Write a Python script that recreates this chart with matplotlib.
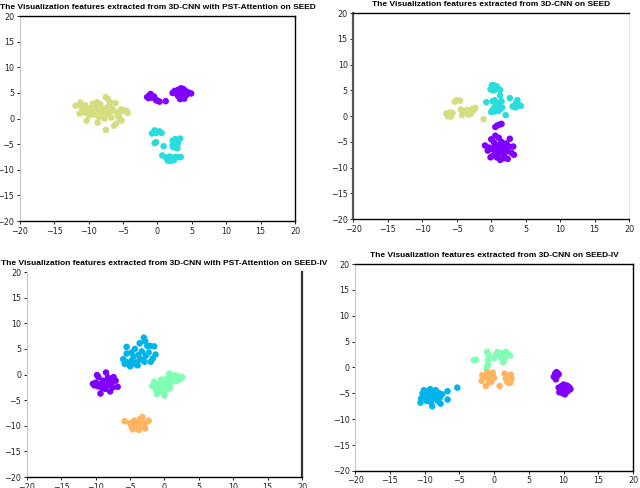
import matplotlib
matplotlib.use("Agg")
import matplotlib.pyplot as plt

# ---- colours (rainbow colormap samples) ----
c_purple = "#8000ff"
c_cyan = "#2adddd"
c_khaki = "#d4dd80"
c_blue = "#00b4eb"
c_mint = "#80ffb4"
c_orange = "#ffb462"

# ---- top left: 3D-CNN with PST-Attention on SEED ----
tl_purple = [(-1.5, 4.2), (-1.2, 4.5), (-1.0, 4.8), (-0.8, 4.1), (-0.5, 4.3), (-1.3, 4.0),
             (0.0, 3.5), (0.3, 3.3), (-0.2, 3.6), (1.2, 3.4), (2.2, 5.0), (2.5, 5.4),
             (3.0, 5.6), (3.4, 5.9), (3.7, 5.8), (4.0, 5.5), (4.5, 5.1), (4.9, 4.9),
             (3.2, 4.8), (3.6, 4.2), (3.3, 3.8), (3.9, 3.9), (2.8, 4.9), (3.5, 5.0),
             (4.2, 4.6), (3.0, 4.4), (2.6, 5.1)]
tl_cyan = [(-0.8, -2.9), (-0.4, -2.3), (-0.2, -2.8), (0.3, -2.5), (0.6, -2.8), (0.0, -2.6),
           (-0.2, -4.6), (-0.4, -4.8), (0.9, -5.4), (0.7, -7.2), (2.2, -4.3), (2.6, -4.0),
           (3.3, -3.9), (2.4, -5.0), (2.8, -5.2), (2.3, -5.6), (2.9, -5.8), (2.6, -4.6),
           (3.0, -4.8), (2.2, -5.3), (1.3, -7.6), (1.6, -8.0), (1.9, -8.3), (2.2, -7.8),
           (2.6, -7.5), (3.0, -7.5), (3.4, -7.5), (1.8, -7.4), (2.4, -8.1), (1.5, -8.2)]
tl_khaki = [(-11.9, 2.5), (-11.2, 3.1), (-11.0, 2.2), (-11.3, 1.0), (-10.5, 2.6), (-10.2, 1.8),
            (-10.0, 1.2), (-10.3, -0.4), (-9.7, 2.1), (-9.5, 1.5), (-9.2, 0.8), (-9.0, 2.4),
            (-8.8, 3.2), (-8.6, 1.9), (-8.5, 0.3), (-8.7, -0.8), (-8.3, 2.8), (-8.1, 1.2),
            (-7.9, 0.6), (-7.7, 2.0), (-7.5, 4.2), (-7.2, 3.8), (-7.5, -2.2), (-7.4, 1.5),
            (-7.2, 0.9), (-7.0, 2.6), (-6.9, 3.2), (-6.7, 0.2), (-6.5, 1.8), (-6.3, -1.4),
            (-6.1, 3.0), (-5.9, 1.2), (-5.7, 0.5), (-5.5, 0.0), (-5.3, 1.8), (-5.2, -0.4),
            (-5.0, 1.5), (-4.6, 1.6), (-4.3, 1.1), (-9.9, 0.6), (-10.8, 1.6), (-9.4, 2.9),
            (-8.0, 1.7), (-6.0, -1.0), (-5.6, 1.0), (-8.9, 1.0), (-7.7, 0.0), (-10.6, 1.2),
            (-6.8, 1.4)]

# ---- top right: 3D-CNN on SEED ----
tr_cyan = [(-0.1, 5.2), (0.2, 5.8), (0.4, 6.0), (0.6, 5.5), (0.8, 5.8), (1.0, 5.3), (0.3, 5.0),
           (1.3, 5.1), (0.1, 6.0), (0.7, 5.2), (-0.7, 2.7), (0.2, 2.9), (0.5, 3.1), (1.3, 4.0),
           (1.5, 2.9), (2.7, 3.5), (0.2, 1.2), (0.4, 1.6), (0.7, 2.0), (0.9, 1.7), (1.1, 2.2),
           (1.3, 1.3), (1.6, 1.7), (0.5, 0.9), (2.1, 0.2), (0.8, 2.6), (3.1, 1.9), (3.5, 1.7),
           (3.6, 2.6), (3.8, 3.1), (4.1, 2.1), (4.3, 2.0), (3.7, 2.3), (0.0, 0.8), (1.0, 1.0)]
tr_khaki = [(-6.5, 0.5), (-6.2, 0.3), (-6.0, 0.7), (-5.8, 0.2), (-5.6, 0.6), (-5.3, 2.8),
            (-5.0, 3.1), (-4.5, 3.0), (-4.4, 1.3), (-4.1, 0.6), (-3.8, 1.0), (-3.3, 0.3),
            (-3.0, 0.9), (-2.8, 1.4), (-2.5, 1.2), (-2.3, 1.6), (-4.2, 0.2), (-1.1, -0.6),
            (-6.3, 0.0), (-5.9, -0.1), (-2.9, 0.5), (-3.5, 1.2)]
tr_purple = [(0.6, -2.1), (0.9, -1.8), (1.3, -1.6), (1.5, -1.5), (0.6, -3.8), (0.0, -4.5),
             (1.1, -4.2), (2.7, -4.4), (1.5, -5.0), (-0.9, -5.7), (-0.3, -6.1), (0.2, -6.4),
             (0.6, -5.8), (0.9, -6.9), (1.2, -5.5), (1.4, -6.5), (1.7, -7.2), (2.0, -6.0),
             (2.3, -6.8), (2.6, -5.9), (3.2, -5.9), (3.3, -7.5), (0.3, -7.6), (0.8, -8.0),
             (1.3, -8.5), (1.8, -8.2), (2.4, -8.3), (-0.1, -8.0), (1.0, -7.4), (1.6, -6.7),
             (0.4, -5.1), (2.2, -5.3), (-0.5, -6.7), (2.9, -7.1), (1.9, -7.8), (1.1, -6.2)]

# ---- bottom left: 3D-CNN with PST-Attention on SEED-IV ----
bl_purple = [(-10.4, -1.8), (-10.0, -1.6), (-9.8, -0.1), (-9.6, -0.5), (-9.5, -1.9), (-9.3, -3.7),
             (-9.1, -2.6), (-8.9, -1.2), (-8.7, -2.3), (-8.5, 0.4), (-8.4, -1.4), (-8.2, -0.6),
             (-8.1, -2.0), (-7.9, -3.3), (-7.7, -1.6), (-7.5, -2.5), (-7.4, -0.5), (-7.1, -1.2),
             (-6.8, -2.4), (-9.7, -2.3), (-8.6, -2.8), (-9.0, -1.5), (-7.8, -1.0), (-10.2, -2.1)]
bl_blue = [(-6.0, 3.0), (-5.5, 5.4), (-5.5, 4.1), (-5.2, 2.1), (-5.0, 1.6), (-4.8, 2.7), (-4.5, 3.5),
           (-4.3, 5.0), (-4.0, 2.4), (-3.8, 3.8), (-3.6, 6.1), (-3.3, 4.5), (-3.1, 2.8), (-3.0, 7.2),
           (-2.8, 6.5), (-2.5, 5.6), (-2.3, 4.3), (-2.0, 2.5), (-1.7, 3.1), (-1.5, 5.5), (-1.3, 3.9),
           (-2.7, 3.7), (-4.2, 2.0), (-5.6, 2.5), (-3.5, 3.0), (-4.8, 4.3), (-2.9, 2.5), (-2.1, 5.6),
           (-5.8, 2.1), (-3.9, 1.8)]
bl_mint = [(-1.8, -2.2), (-1.5, -1.4), (-1.3, -2.9), (-1.1, -3.8), (-0.9, -1.8), (-0.6, -2.5),
           (-0.4, -3.3), (-0.2, -1.5), (0.0, -4.1), (0.1, -2.2), (0.3, -0.8), (0.5, -1.6),
           (0.7, 0.2), (0.8, -2.7), (1.0, -0.4), (1.2, -1.1), (1.4, -0.6), (1.7, -1.3),
           (2.0, -0.4), (2.3, -0.9), (2.6, -0.5), (0.2, -3.0), (-0.5, -1.0), (0.9, -1.8),
           (1.5, -0.1), (-1.0, -2.7), (0.4, -2.5)]
bl_orange = [(-5.8, -9.1), (-5.0, -9.5), (-4.8, -10.1), (-4.6, -10.7), (-4.4, -9.0), (-4.2, -9.8),
             (-4.0, -10.4), (-3.8, -9.3), (-3.6, -8.7), (-3.4, -10.1), (-3.2, -8.3), (-3.0, -9.7),
             (-2.8, -10.5), (-2.5, -9.2), (-2.3, -9.0), (-4.5, -10.3), (-3.7, -10.8), (-3.3, -9.5)]

# ---- bottom right: 3D-CNN on SEED-IV ----
br_blue = [(-10.6, -6.8), (-10.5, -6.0), (-10.3, -5.0), (-10.0, -5.5), (-9.8, -4.6), (-9.6, -6.3),
           (-9.4, -5.2), (-9.2, -4.2), (-9.0, -5.8), (-8.9, -7.5), (-8.8, -4.8), (-8.6, -6.0),
           (-8.4, -4.4), (-8.3, -5.4), (-8.1, -6.5), (-8.0, -4.9), (-7.8, -5.8), (-7.7, -7.0),
           (-7.5, -5.2), (-6.7, -4.6), (-6.7, -6.2), (-5.3, -3.9), (-9.7, -6.5), (-9.1, -6.7),
           (-10.1, -4.4)]
br_mint = [(-2.9, 1.4), (-2.6, 1.5), (-1.0, 3.0), (-0.8, 2.4), (-0.9, 1.4), (-0.9, 0.5), (-1.1, -0.2),
           (0.0, 1.8), (0.5, 3.0), (0.8, 2.6), (1.0, 2.0), (1.2, 2.8), (1.5, 1.7), (1.7, 3.0),
           (2.0, 2.5), (2.3, 2.3), (1.3, 1.0), (0.3, 2.6)]
br_orange = [(-1.8, -2.6), (-1.7, -1.5), (-1.2, -3.6), (-1.0, -1.0), (-0.8, -2.2), (-0.6, -1.4),
             (-0.4, -2.8), (-0.2, -1.0), (0.0, -2.0), (-0.3, -1.8), (-1.4, -1.9), (-0.7, -2.9),
             (0.8, -3.6), (1.5, -1.2), (1.7, -2.2), (2.0, -1.6), (2.2, -2.6), (2.4, -1.4),
             (2.5, -2.2), (1.9, -2.8), (2.3, -3.0)]
br_purple = [(8.6, -1.8), (8.8, -1.2), (9.0, -0.9), (9.1, -1.6), (8.9, -2.3), (9.3, -1.3),
             (9.3, -3.9), (9.4, -4.8), (9.7, -3.6), (9.8, -4.5), (10.0, -3.3), (10.2, -5.2),
             (10.3, -4.0), (10.6, -4.6), (10.8, -3.8), (11.0, -4.2), (9.9, -5.0), (10.5, -3.5)]

ticks = [-20, -15, -10, -5, 0, 5, 10, 15, 20]

panels = [
    ([0.031, 0.547, 0.43, 0.42],
     "The Visualization features extracted from 3D-CNN with PST-Attention on SEED",
     [(tl_khaki, c_khaki), (tl_purple, c_purple), (tl_cyan, c_cyan)],
     {"left": ("#c8c8c8", 0.8), "right": ("black", 1.0), "top": ("black", 1.0)}),
    ([0.552, 0.551, 0.431, 0.422],
     "The Visualization features extracted from 3D-CNN on SEED",
     [(tr_khaki, c_khaki), (tr_cyan, c_cyan), (tr_purple, c_purple)],
     {"left": ("#555555", 1.6), "right": ("#dddddd", 0.6), "top": ("black", 1.0)}),
    ([0.042, 0.0225, 0.43, 0.42],
     "The Visualization features extracted from 3D-CNN with PST-Attention on SEED-IV",
     [(bl_purple, c_purple), (bl_blue, c_blue), (bl_mint, c_mint), (bl_orange, c_orange)],
     {"left": ("#c8c8c8", 0.8), "right": ("#333333", 1.6), "top": (None, 0)}),
    ([0.555, 0.035, 0.434, 0.424],
     "The Visualization features extracted from 3D-CNN on SEED-IV",
     [(br_purple, c_purple), (br_blue, c_blue), (br_mint, c_mint), (br_orange, c_orange)],
     {"left": ("#c8c8c8", 0.8), "right": ("black", 1.0), "top": ("black", 1.0)}),
]

fig = plt.figure(figsize=(6.4, 4.88), dpi=100)

for rect, title, groups, spines in panels:
    ax = fig.add_axes(rect)
    for pts, col in groups:
        xs = [p[0] for p in pts]
        ys = [p[1] for p in pts]
        ax.scatter(xs, ys, s=22, c=col, edgecolors="none")
    ax.set_xlim(-20, 20)
    ax.set_ylim(-20, 20)
    ax.set_xticks(ticks)
    ax.set_yticks(ticks)
    ax.tick_params(labelsize=5.8, length=2.5, width=0.6, pad=1.5, labelcolor="#222222")
    for name, (col, lw) in spines.items():
        if col is None:
            ax.spines[name].set_visible(False)
        else:
            ax.spines[name].set_color(col)
            ax.spines[name].set_linewidth(lw)
    ax.spines["bottom"].set_linewidth(1.0)
    ax.set_title(title, fontsize=6.0, fontweight="bold", pad=5,
                 family=["Liberation Sans", "DejaVu Sans"])

fig.savefig("out.png", dpi=100)
